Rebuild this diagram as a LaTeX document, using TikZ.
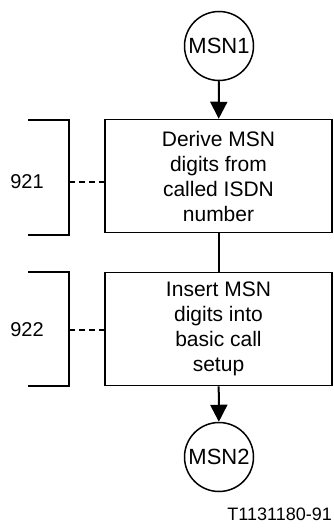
\documentclass[tikz,border=0pt]{standalone}
\usepackage{fontspec}
\setmainfont{Liberation Sans}
\usetikzlibrary{arrows.meta}
\begin{document}
\begin{tikzpicture}[x=1pt,y=-1pt,
  term/.style={circle,draw,line width=1.5pt,minimum size=69pt,inner sep=0pt,font=\fontsize{22}{24}\selectfont},
  proc/.style={draw,line width=1.5pt,minimum width=227pt,minimum height=113pt,inner sep=0pt,align=center,font=\fontsize{21}{25}\selectfont},
  flow/.style={line width=2pt,-{Triangle[length=17pt,width=17pt]}},
  brk/.style={line width=2.8pt},
  dsh/.style={line width=2.2pt,dash pattern=on 6pt off 4pt},
  lbl/.style={font=\fontsize{20}{22}\selectfont,inner sep=0pt}]
\useasboundingbox (0,0) rectangle (334,530);
\node[term] (m1) at (219,46) {MSN1};
\node[proc] (p1) at (218.5,176) {Derive MSN\\digits from\\called ISDN\\number};
\node[proc] (p2) at (218.5,329) {Insert MSN\\digits into\\basic call\\setup};
\node[term] (m2) at (219,457) {MSN2};
\draw[flow] (m1) -- (p1);
\draw[line width=2pt] (p1) -- (p2);
\draw[flow] (p2) -- (m2);
\coordinate (b1t) at (28,120);
\coordinate (b1b) at (28,235);
\coordinate (b1m) at (69,182);
\draw[brk] (b1t) -- (69,120) -- (69,235) -- (b1b);
\draw[dsh] (b1m) -- (b1m -| p1.west);
\node[lbl] (l1) at (27,182) {921};
\coordinate (b2t) at (28,272);
\coordinate (b2b) at (28,386);
\coordinate (b2m) at (69,330);
\draw[brk] (b2t) -- (69,272) -- (69,386) -- (b2b);
\draw[dsh] (b2m) -- (b2m -| p2.west);
\node[lbl] (l2) at (27,330) {922};
\node[font=\fontsize{18}{20}\selectfont,anchor=base east,inner sep=0pt] (tag) at (332,520) {T1131180-91};
\end{tikzpicture}
\end{document}
